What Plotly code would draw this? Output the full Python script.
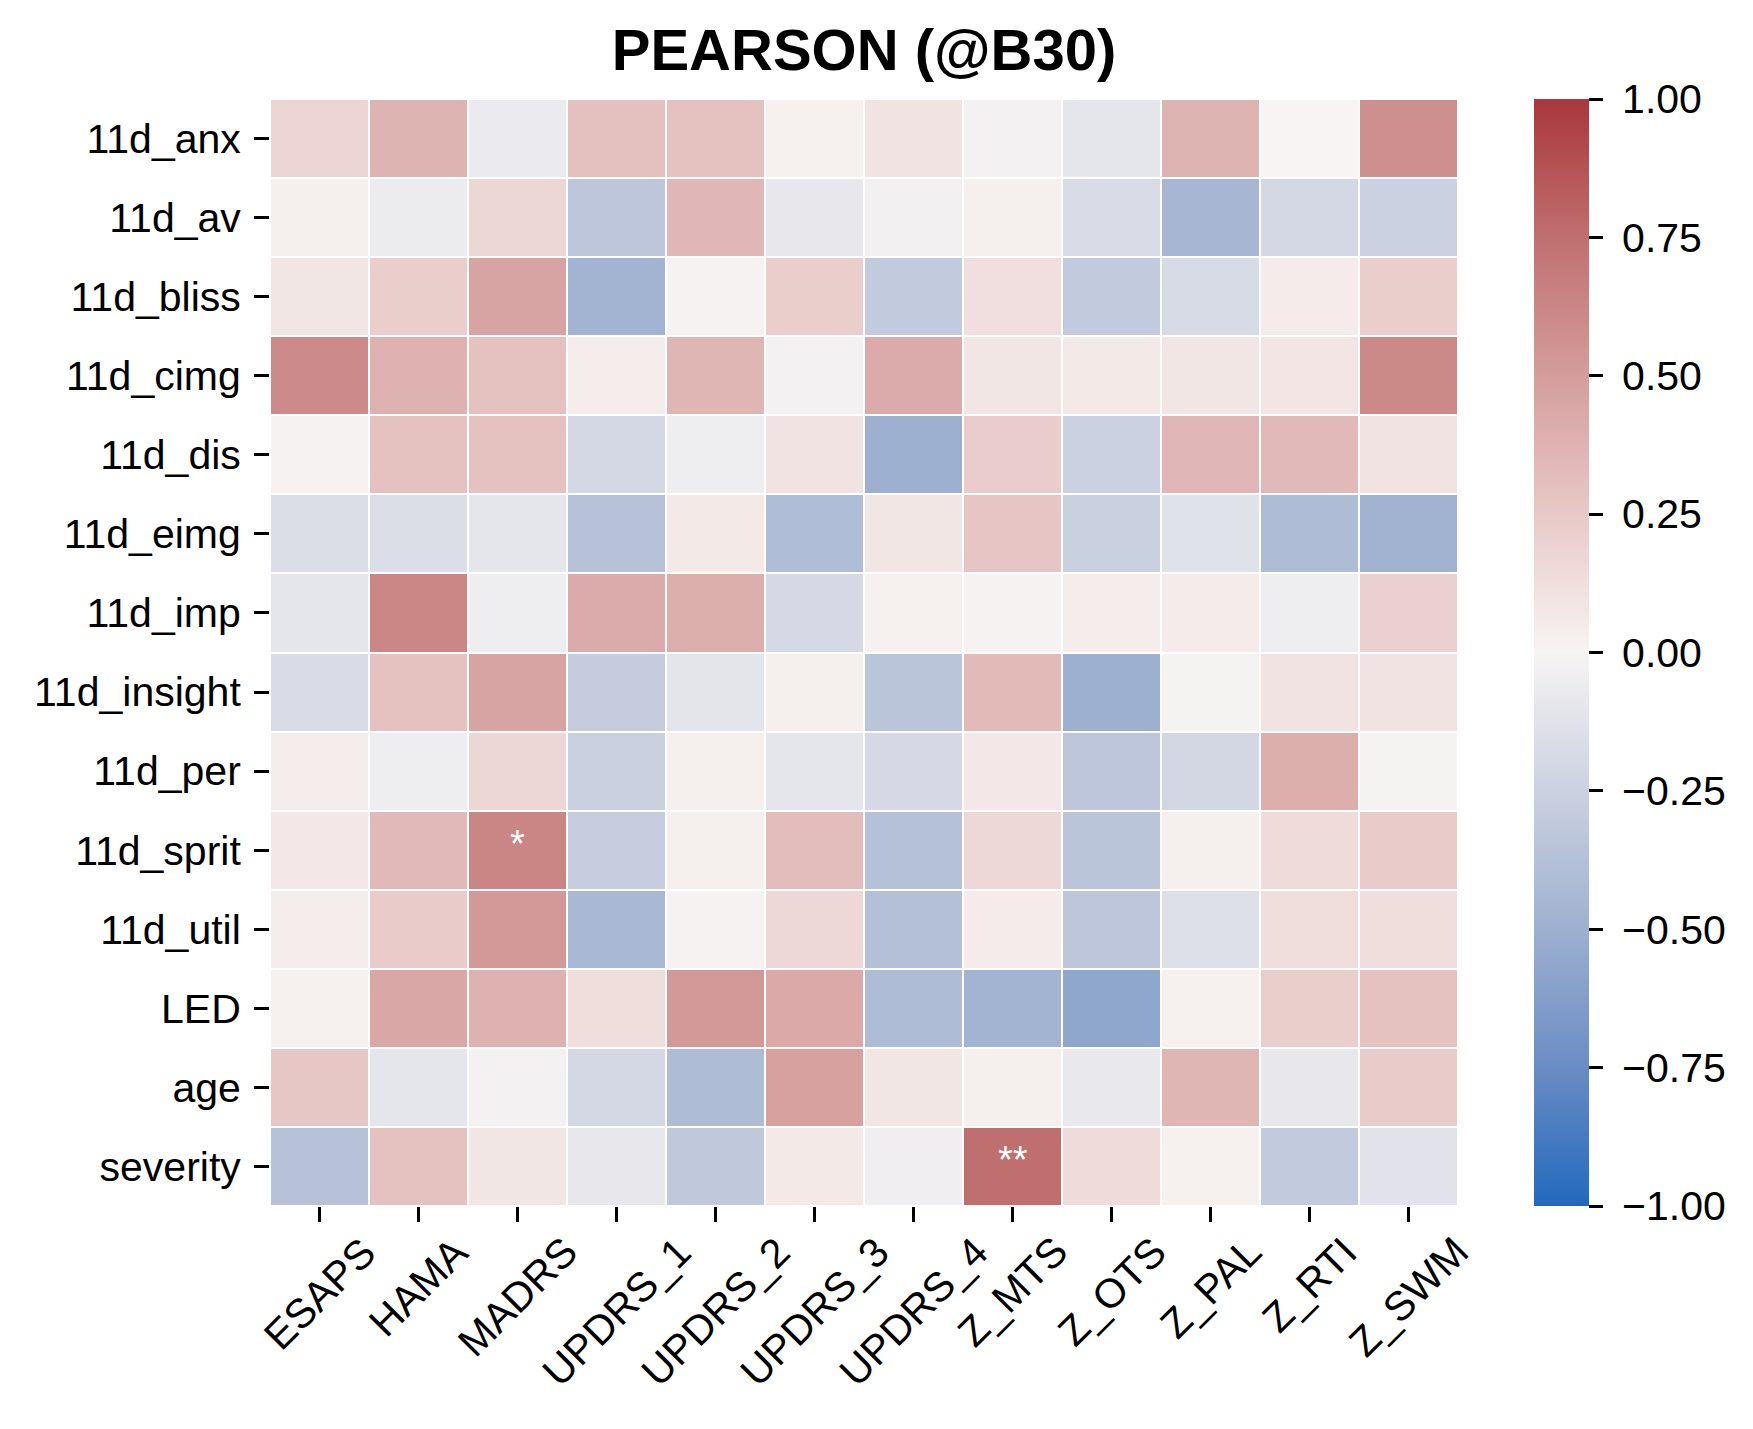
import plotly.graph_objects as go

# ---- data ----
columns = ["ESAPS", "HAMA", "MADRS", "UPDRS_1", "UPDRS_2", "UPDRS_3",
           "UPDRS_4", "Z_MTS", "Z_OTS", "Z_PAL", "Z_RTI", "Z_SWM"]
rows = ["11d_anx", "11d_av", "11d_bliss", "11d_cimg", "11d_dis", "11d_eimg",
        "11d_imp", "11d_insight", "11d_per", "11d_sprit", "11d_util",
        "LED", "age", "severity"]

r_anx      = [0.18, 0.37, -0.07, 0.30, 0.29, 0.02, 0.10, -0.02, -0.10, 0.37, 0.00, 0.57]
r_av       = [0.03, -0.06, 0.17, -0.33, 0.35, -0.09, -0.03, 0.03, -0.17, -0.45, -0.20, -0.25]
r_bliss    = [0.08, 0.22, 0.46, -0.47, 0.01, 0.22, -0.30, 0.12, -0.30, -0.18, 0.05, 0.22]
r_cimg     = [0.60, 0.38, 0.29, 0.04, 0.36, -0.02, 0.42, 0.08, 0.06, 0.08, 0.09, 0.61]
r_dis      = [0.01, 0.29, 0.29, -0.20, -0.05, 0.10, -0.50, 0.23, -0.25, 0.35, 0.34, 0.10]
r_eimg     = [-0.16, -0.16, -0.10, -0.36, 0.06, -0.40, 0.08, 0.27, -0.26, -0.13, -0.41, -0.48]
r_imp      = [-0.10, 0.62, -0.05, 0.42, 0.40, -0.19, 0.02, 0.01, 0.04, 0.05, -0.05, 0.21]
r_insight  = [-0.17, 0.29, 0.46, -0.29, -0.11, 0.03, -0.34, 0.33, -0.50, -0.01, 0.10, 0.10]
r_per      = [0.04, -0.05, 0.17, -0.26, 0.03, -0.10, -0.19, 0.07, -0.33, -0.21, 0.40, -0.01]
r_sprit    = [0.07, 0.34, 0.63, -0.28, 0.03, 0.32, -0.37, 0.16, -0.34, 0.03, 0.14, 0.24]
r_util     = [0.04, 0.24, 0.52, -0.44, 0.01, 0.16, -0.38, 0.05, -0.33, -0.14, 0.13, 0.13]
r_led      = [0.02, 0.44, 0.38, 0.13, 0.52, 0.43, -0.41, -0.47, -0.57, 0.02, 0.22, 0.29]
r_age      = [0.26, -0.10, -0.02, -0.20, -0.41, 0.48, 0.08, 0.03, -0.08, 0.36, -0.09, 0.24]
r_severity = [-0.36, 0.29, 0.08, -0.09, -0.31, 0.06, -0.04, 0.75, 0.14, 0.02, -0.30, -0.12]

z_values = [r_anx, r_av, r_bliss, r_cimg, r_dis, r_eimg, r_imp, r_insight,
            r_per, r_sprit, r_util, r_led, r_age, r_severity]

sig_rows = ["11d_sprit", "severity"]
sig_cols = ["MADRS", "Z_MTS"]
sig_text = ["*", "**"]

cbar_vals = [-1.0, -0.75, -0.5, -0.25, 0.0, 0.25, 0.5, 0.75, 1.0]
cbar_text = ["\u22121.00", "\u22120.75", "\u22120.50", "\u22120.25", "0.00",
             "0.25", "0.50", "0.75", "1.00"]

title_text = "PEARSON (@B30)"

# ---- style ----
FONT = "Liberation Sans, Arial, Helvetica, sans-serif"
vlag = [
    [0.000, "#2369bd"],
    [0.125, "#6a8cc4"],
    [0.250, "#9eb0d0"],
    [0.375, "#cbd1e0"],
    [0.500, "#f7f4f3"],
    [0.625, "#e8c9c7"],
    [0.750, "#d49d9c"],
    [0.875, "#c06f6f"],
    [1.000, "#a9373b"],
]

W, H = 1753, 1429
OFF = 8  # page body margin offset compensation
L, R, T, B = 270 - OFF, 1458 - OFF, 99 - OFF, 1206 - OFF

fig = go.Figure()
fig.add_trace(go.Heatmap(
    z=z_values, x=columns, y=rows,
    zmin=-1, zmax=1, colorscale=vlag,
    xgap=2, ygap=2, hoverinfo="skip",
    colorbar=dict(
        x=1 + (1534 - 1458) / (R - L), xanchor="left", xpad=0,
        y=0.5, yanchor="middle", ypad=0, len=1, lenmode="fraction",
        thickness=55, thicknessmode="pixels", outlinewidth=0,
        tickmode="array", tickvals=cbar_vals,
        ticktext=["\u00a0" + t for t in cbar_text],
        ticks="outside", ticklen=14, tickwidth=3, tickcolor="black",
        tickfont=dict(family=FONT, size=41, color="black"),
    ),
))

annotations = []
for r, c, t in zip(sig_rows, sig_cols, sig_text):
    annotations.append(dict(
        x=c, y=r, xref="x", yref="y", text=t, showarrow=False, yshift=6,
        font=dict(family=FONT, size=38, color="white"),
        xanchor="center", yanchor="middle",
    ))
for c in columns:
    annotations.append(dict(
        x=c, y=-20 / (B - T), xref="x", yref="paper", text=c,
        showarrow=False, textangle=-45, xanchor="center", yanchor="top",
        font=dict(family=FONT, size=41, color="black"),
    ))

fig.update_layout(
    width=W, height=H,
    margin=dict(l=L, r=W - R, t=T, b=H - B, pad=0, autoexpand=False),
    paper_bgcolor="white", plot_bgcolor="white",
    title=dict(text=title_text, x=(L + R) / 2 / W, xanchor="center",
               y=1 - (50 - OFF) / H, yanchor="middle",
               xref="container", yref="container", automargin=False,
               font=dict(family=FONT, size=58, color="black", weight="bold")),
    xaxis=dict(showgrid=False, zeroline=False, showline=False, automargin=False,
               range=[-0.5, len(columns) - 0.5], autorange=False,
               ticks="outside", ticklen=15, tickwidth=3, tickcolor="black",
               showticklabels=False),
    yaxis=dict(showgrid=False, zeroline=False, showline=False, automargin=False,
               range=[len(rows) - 0.5, -0.5], autorange=False,
               ticks="outside", ticklen=15, tickwidth=3, tickcolor="black",
               ticklabelstandoff=5,
               tickfont=dict(family=FONT, size=41, color="black")),
    annotations=annotations,
)

fig.write_html("out.html")
